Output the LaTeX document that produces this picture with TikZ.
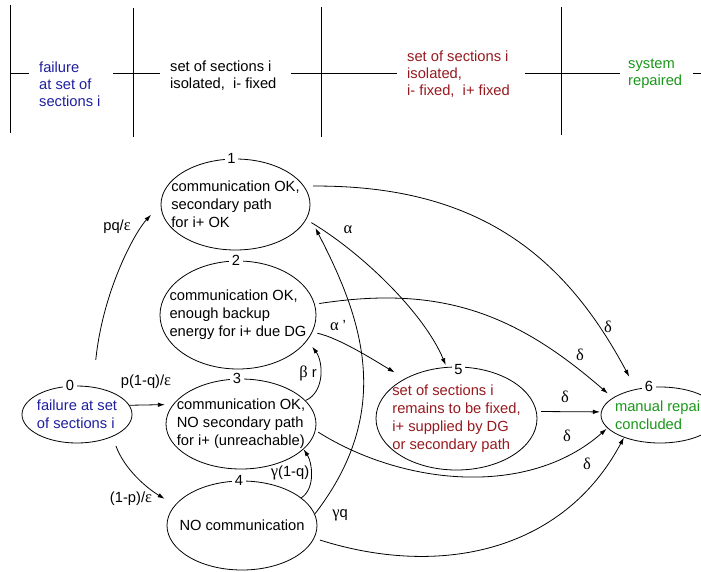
\documentclass[tikz,border=0pt]{standalone}
\usepackage{fontspec}
\setmainfont{Liberation Sans}
\newfontfamily\grk[Scale=1.12]{Liberation Serif}
\usetikzlibrary{shapes.geometric,arrows.meta}
\definecolor{fblue}{RGB}{30,30,160}
\definecolor{fred}{RGB}{150,25,30}
\definecolor{fgreen}{RGB}{25,150,25}

\begin{document}
\begin{tikzpicture}[x=1pt,y=-1pt,
  state/.style={draw,ellipse,line width=0.8pt,inner xsep=-30pt,inner ysep=-10pt,align=left,font=\fontsize{14.7}{18}\selectfont},
  num/.style={fill=white,inner sep=2.5pt,font=\fontsize{14.7}{17}\selectfont},
  lbl/.style={inner sep=0pt,font=\fontsize{14.7}{17}\selectfont},
  phase/.style={anchor=west,align=left,inner sep=0pt,font=\fontsize{14.7}{17}\selectfont},
  tr/.style={-{Latex[length=7pt,width=4.5pt]},line width=0.8pt}]

\useasboundingbox (0,0) rectangle (701,571);
\clip (0,0) rectangle (701,571);

\draw[line width=0.8pt] (10,5) -- (10,133) (133,8) -- (133,137) (321,7) -- (321,137) (561,7) -- (561,135);
\draw[line width=0.8pt] (10,73) -- (29,73) (113,73) -- (160,73) (291,73) -- (397,73) (525,73) -- (620,73) (693,73) -- (701,73);
\node[phase,text=fblue] (p1) at (39,84) {failure\\at set of\\sections i};
\node[phase] (p2) at (170,75.5) {set of sections i\\isolated, \ i- fixed};
\node[phase,text=fred] (p3) at (407,74) {set of sections i\\isolated,\\i- fixed, \ i+ fixed};
\node[phase,text=fgreen] (p4) at (628,74) {system\\repaired};

\node[state,minimum width=110pt,minimum height=57pt,text=fblue] (s0) at (77,414.5) {failure at set\\of sections i};
\node[state,minimum width=149pt,minimum height=91pt] (s1) at (235.5,204.5) {communication OK,\\secondary path\\for i+ OK};
\node[state,minimum width=156pt,minimum height=108pt] (s2) at (238,315) {communication OK,\\enough backup\\energy for i+ due DG};
\node[state,minimum width=150pt,minimum height=90pt] (s3) at (241,424) {communication OK,\\NO secondary path\\for i+ (unreachable)};
\node[state,minimum width=150pt,minimum height=89pt] (s4) at (242,525.5) {NO communication};
\node[state,minimum width=161pt,minimum height=103pt,text=fred] (s5) at (456.5,418.5) {set of sections i\\remains to be fixed,\\i+ supplied by DG\\or secondary path};
\node[state,minimum width=118pt,minimum height=56pt,text=fgreen] (s6) at (660,415) {manual repair\\concluded};

\node[num,xshift=-7pt] (n0) at (s0.north) {0};
\node[num,xshift=-4pt] (n1) at (s1.north) {1};
\node[num,xshift=-2pt] (n2) at (s2.north) {2};
\node[num,xshift=-4pt] (n3) at (s3.north) {3};
\node[num,xshift=-3pt] (n4) at (s4.north) {4};
\node[num,xshift=2pt,yshift=-3pt] (n5) at (s5.north) {5};
\node[num,xshift=-11pt] (n6) at (s6.north) {6};

\draw[tr,shorten <=27pt,shorten >=14pt] (s0.60) .. controls (103,290) and (135,232) .. (s1.180);
\draw[tr,shorten >=8pt] (s0.10) -- (s3.164);
\draw[tr,shorten <=10pt,shorten >=12pt] (s0.-32) .. controls (124,468) and (145,487) .. (s4.163);
\draw[tr,shorten >=8pt] (s3.20) .. controls (325,392) and (323.3,361.7) .. (s2.-20);
\draw[tr] (s4.25) .. controls (316,488) and (312,462) .. (s3.-22);
\draw[tr,shorten >=15pt] (s4.9) .. controls (395,410) and (362,318) .. (s1.-8);
\draw[tr,shorten <=6pt,shorten >=2pt] (s1.-12) .. controls (365,255) and (425,315) .. (s5.101);
\draw[tr,shorten <=5pt,shorten >=12pt] (s2.-13) .. controls (340,338) and (379.7,363.7) .. (s5.142);
\draw[tr,shorten <=9pt,shorten >=14pt] (s1.15) .. controls (480,185) and (565.6,257.4) .. (s6.133);
\draw[tr,shorten <=4.5pt,shorten >=6.5pt] (s2.8) .. controls (440,285) and (515,312.7) .. (s6.160);
\draw[tr,shorten <=4.5pt,shorten >=1pt] (s5.5) -- (s6.177);
\draw[tr,shorten <=3pt,shorten >=1pt] (s3.-5) .. controls (404.5,486.2) and (529,497.3) .. (s6.-166);
\draw[tr,shorten <=6pt] (s4.-10) .. controls (440,578) and (563.2,551.7) .. (s6.-148);

\node[lbl] (l01) at (117,227) {pq/{\grk ε}};
\node[lbl] (l03) at (146,382) {p(1-q)/{\grk ε}};
\node[lbl] (l04) at (131,499) {(1-p)/{\grk ε}};
\node[lbl] (l32) at (308,373) {{\grk β} r};
\node[lbl] (l43) at (290,473) {{\grk γ}(1-q)};
\node[lbl] (l41) at (340,515) {{\grk γ}q};
\node[lbl] (l15) at (348,230) {{\grk α}};
\node[lbl] (l25) at (338,326) {{\grk α} '};
\node[lbl] (l16) at (608,327) {{\grk δ}};
\node[lbl] (l26) at (580,355) {{\grk δ}};
\node[lbl] (l56) at (565,397) {{\grk δ}};
\node[lbl] (l36) at (567,436) {{\grk δ}};
\node[lbl] (l46) at (587,464) {{\grk δ}};

\end{tikzpicture}
\end{document}
